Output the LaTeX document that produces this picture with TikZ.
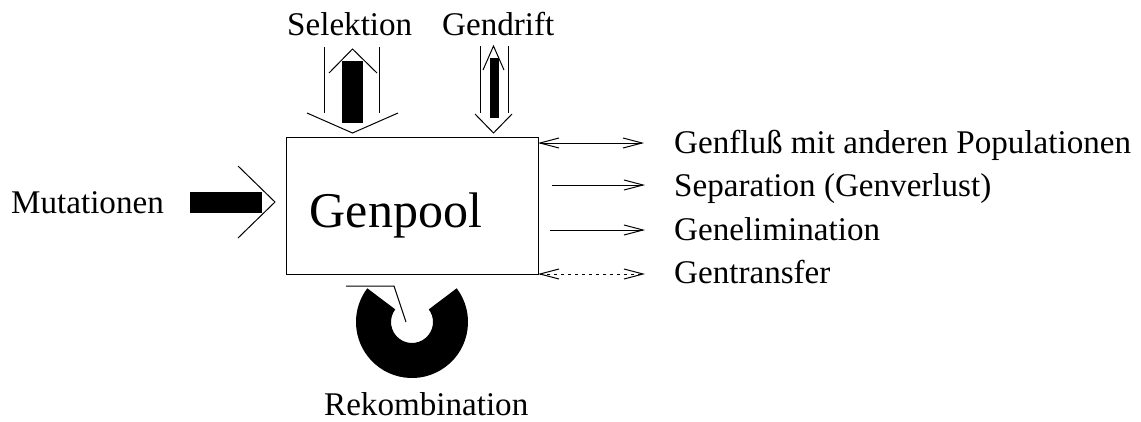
\documentclass[tikz,border=0pt]{standalone}
\usepackage{fontspec}
\setmainfont{Liberation Serif}
\usetikzlibrary{arrows.meta,calc}
\begin{document}
\begin{tikzpicture}[x=1pt,y=-1pt,
  lbl/.style={inner sep=0pt, anchor=base west, font=\fontsize{33.1}{40}\selectfont},
  ln/.style={line width=1pt, line join=miter},
  barb/.tip={Straight Barb[length=19pt,width=10pt]},
  flow/.style={ln, barb-barb},
  outflow/.style={ln, -barb},
  dots/.style={ln, barb-barb, dash pattern=on 3pt off 4pt},
  ]
\useasboundingbox (0,0) rectangle (1141,421);

% Genpool box
\node[draw, line width=1.2pt, minimum width=252pt, minimum height=137pt, inner sep=0pt, anchor=north west] (pool) at (286,137) {};
\node[inner sep=0pt, anchor=base west, font=\fontsize{50}{60}\selectfont] (gp) at (309.5,227) {Genpool};

% labels
\node[lbl] (mut) at (11,213) {Mutationen};
\node[lbl] (sel) at (287,35) {Selektion};
\node[lbl] (gd) at (442,35) {Gendrift};
\node[lbl] (rek) at (324,415) {Rekombination};
\node[lbl] (l1) at (674,153) {Genfluß mit anderen Populationen};
\node[lbl] (l2) at (674,196) {Separation (Genverlust)};
\node[lbl] (l3) at (674,240) {Genelimination};
\node[lbl] (l4) at (674,283) {Gentransfer};

% right-hand connectors
\coordinate (a1) at (538,143); \coordinate (b1) at (644,143);
\coordinate (a2) at (552,185); \coordinate (b2) at (645,185);
\coordinate (a3) at (550,230); \coordinate (b3) at (645,230);
\coordinate (a4) at (538,274); \coordinate (b4) at (645,274);
\draw[flow] (a1) -- (b1);
\draw[outflow] (a2) -- (b2);
\draw[outflow] (a3) -- (b3);
\draw[dots] (a4) -- (b4);

% Mutationen arrow
\fill (190,192) rectangle (262,213);
\draw[ln] (238,166) -- (275,202) -- (238,238);

% Selektion symbol
\draw[ln] (324,47) -- (324,113);
\draw[ln] (379,47) -- (379,113);
\draw[ln] (329,73) -- (352.5,49) -- (377,73);
\fill (342,61) rectangle (363,123);
\draw[ln] (307,113) -- (352.5,133) -- (398,113);

% Gendrift symbol
\draw[ln] (480,46) -- (480,113);
\draw[ln] (508,46) -- (508,113);
\draw[ln] (483,70) -- (493.5,46) -- (504,70);
\fill (489.5,58) rectangle (498.5,118);
\draw[ln] (475,114) -- (493.5,133) -- (512,114);

% Rekombination symbol
\coordinate (rc) at (412,322);
\fill ($(rc)+(-37:56)$) arc[start angle=-37, end angle=217, radius=56]
  -- ($(rc)+(217:21)$) arc[start angle=217, end angle=-37, radius=21] -- cycle;
\draw[ln] (346,286) -- (394,286) -- (406,322);
\end{tikzpicture}
\end{document}
